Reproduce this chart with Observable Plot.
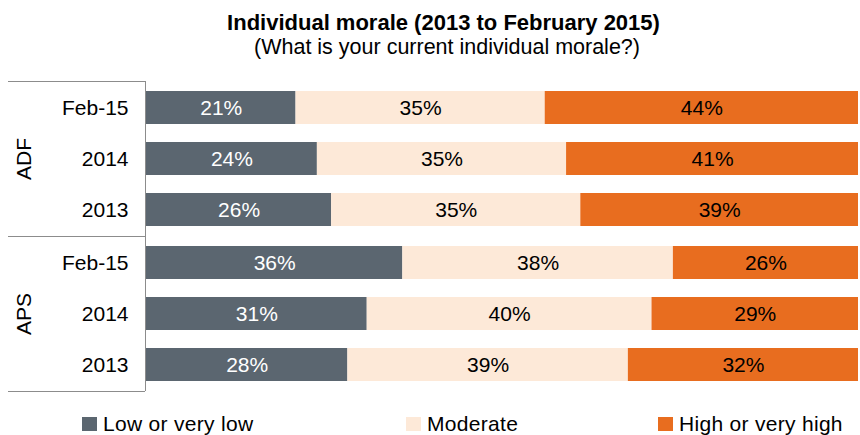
<!DOCTYPE html>
<html>
<head>
<meta charset="utf-8">
<script src="https://cdn.jsdelivr.net/npm/d3@7"></script>
<script src="https://cdn.jsdelivr.net/npm/@observablehq/plot@0.6"></script>
<style>
  body { margin: 0; background: #fff; font-family: "Liberation Sans", Arial, sans-serif; }
  #wrap { position: relative; width: 860px; height: 435px; overflow: hidden; }
  #header { position: relative; height: 70px; }
  #title { position: absolute; left: 0; width: 887px; top: 10px; text-align: center; font-weight: bold; font-size: 22px; color: #000; }
  #subtitle { position: absolute; left: 0; width: 894px; top: 35px; text-align: center; font-size: 21.5px; color: #000; }
  #legend { position: relative; height: 40px; }
  .item { position: absolute; top: 0; display: flex; align-items: center; height: 40px; font-size: 21px; color: #000; }
  .sw { width: 15px; height: 14px; margin-right: 6px; margin-top: 17px; }
  .lab { margin-top: 17px; letter-spacing: 0.3px; }
</style>
</head>
<body>
<div id="wrap">
  <div id="header">
    <div id="title">Individual morale (2013 to February 2015)</div>
    <div id="subtitle">(What is your current individual morale?)</div>
  </div>
  <div id="chart"></div>
  <div id="legend"></div>
</div>
<script>
const groups = ["ADF", "APS"];
const years = ["Feb-15", "2014", "2013"];
const categories = ["Low or very low", "Moderate", "High or very high"];
const colors = ["#5b6670", "#fde9d8", "#e86d1f"];
const textColors = ["#ffffff", "#000000", "#000000"];
const lowValues = { ADF: [21, 24, 26], APS: [36, 31, 28] };
const moderateValues = { ADF: [35, 35, 35], APS: [38, 40, 39] };
const highValues = { ADF: [44, 41, 39], APS: [26, 29, 32] };
const legendLeft = [82, 406, 658];

const seriesValues = [lowValues, moderateValues, highValues];
const data = [];
for (const g of groups) {
  years.forEach((y, i) => {
    categories.forEach((c, k) => {
      data.push({ group: g, year: y, category: c, value: seriesValues[k][g][i] });
    });
  });
}

const plot = Plot.plot({
  width: 860,
  height: 325,
  marginLeft: 146,
  marginRight: 2,
  marginTop: 10,
  marginBottom: 4,
  style: { fontFamily: "'Liberation Sans', Arial, sans-serif", background: "transparent" },
  x: { domain: [0, 1], axis: null },
  y: { domain: years, paddingInner: 0.35, paddingOuter: 0.175, label: null },
  fy: { domain: groups, padding: 0, label: null },
  color: { domain: categories, range: colors },
  marks: [
    Plot.barX(data, Plot.stackX({ x: "value", y: "year", fy: "group", fill: "category", order: categories, offset: "normalize" })),
    Plot.text(data, Plot.stackX({
      x: "value", y: "year", fy: "group", z: "category", order: categories, offset: "normalize",
      text: d => d.value + "%",
      fill: { value: d => textColors[categories.indexOf(d.category)], scale: null },
      fontSize: 21
    })),
    Plot.ruleX([0], { stroke: "#8c8c8c", strokeWidth: 1, dx: -1 }),
    Plot.axisY({ tickSize: 0, tickPadding: 18, fontSize: 21, fill: "#000", label: null }),
    Plot.axisFy({ anchor: "left", tickSize: 0, tickPadding: 116, tickRotate: -90, fontSize: 21, fill: "#000", label: null })
  ]
});
document.getElementById("chart").appendChild(plot);

// group separator lines in the left margin, positioned from the fy scale
const fy = plot.scale("fy");
const x0 = plot.scale("x").apply(0) - 1;
const svg = d3.select(plot);
const edges = new Set();
for (const g of groups) {
  edges.add(fy.apply(g));
  edges.add(fy.apply(g) + fy.bandwidth);
}
for (const e of edges) {
  svg.append("line")
    .attr("x1", 8).attr("x2", x0)
    .attr("y1", Math.round(e) + 0.5).attr("y2", Math.round(e) + 0.5)
    .attr("stroke", "#8c8c8c").attr("stroke-width", 1);
}

const legend = document.getElementById("legend");
categories.forEach((c, i) => {
  const it = document.createElement("div");
  it.className = "item";
  it.style.left = legendLeft[i] + "px";
  it.innerHTML = `<div class="sw" style="background:${colors[i]}"></div><div class="lab">${c}</div>`;
  legend.appendChild(it);
});
</script>
</body>
</html>
